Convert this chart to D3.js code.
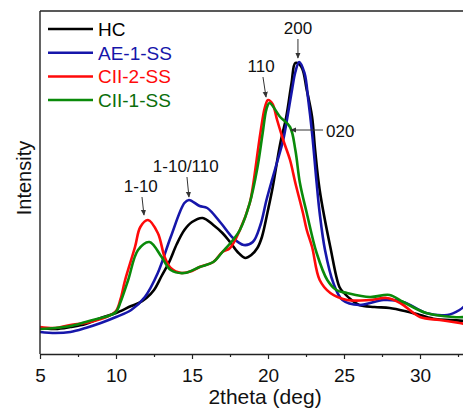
<!DOCTYPE html>
<html>
<head>
<meta charset="utf-8">
<script src="https://cdn.jsdelivr.net/npm/d3@7"></script>
<style>
  body { margin: 0; background: #fff; }
  svg { display: block; font-family: "Liberation Sans", Arial, sans-serif; }
</style>
</head>
<body>
<div id="chart"></div>
<script>
// XRD patterns, intensity in arbitrary units
const thetaHC = [5,6,7,8,9,10,11,11.5,12,12.5,13,13.5,14,14.5,15,15.7,16.4,17,17.5,18,18.5,18.9,19.3,19.6,20,20.3,20.8,21.2,21.55,21.8,22.2,22.55,22.9,23.1,23.4,24.1,24.7,25,25.5,26,27,28,29,30,31,32,33];
const intHC   = [26,25,27,30,36,41,48,51,56,64,78,92,110,124,132,136,129,121,112,102,96,99,106,117,144,166,210,237,271,291,287,264,237,204,164,107,67,61,54,49,47,46,43,39,35,34,33];

const thetaAE = [5,6,7,8,9,10,11,11.9,12.75,13.6,14.5,14.8,15.5,16,16.9,17.7,18.4,19,19.5,19.9,20.3,20.6,21,21.3,21.6,21.8,22.05,22.4,22.65,22.9,23.2,23.4,23.75,24.3,24.9,26,27.6,28.9,30.4,31.8,32.6,33];
const intAE   = [22,21,22,26,31,37,44,57,81,117,151,154,148,146,131,116,109,112,129,154,176,192,214,239,266,282,292,281,254,221,171,141,104,71,54,49,54,52,41,39,44,49];

const thetaC2 = [5,6,7,8,9,9.5,10,10.3,10.6,11.25,11.6,12.1,12.75,13.2,13.6,14.3,15,15.5,16.4,17,17.5,18.15,18.8,19,19.5,19.8,20,20.3,20.6,21,21.45,21.8,22.3,22.55,22.9,23.4,24.1,25.2,26.7,27.8,28.7,30,31.3,32.6,33];
const intC2   = [27,26,29,31,35,38,43,55,74,107,127,134,121,97,86,81,83,87,92,102,106,124,151,167,221,247,254,250,234,214,194,171,141,124,107,74,61,54,54,56,51,37,34,31,30];

const thetaC1 = [5,6,7,8,9,9.5,10,10.3,10.8,11.45,12.2,13,13.6,14.5,15.5,16.4,17,17.7,18.15,18.8,19.3,19.65,19.9,20.1,20.8,21.45,21.8,22.1,22.55,23.2,23.9,24.5,25.2,26.7,28,28.9,30.4,32.2,33];
const intC1   = [25,26,28,32,36,38,42,52,74,104,112,97,84,81,87,92,102,114,124,151,186,221,245,251,237,227,204,171,141,101,74,64,61,57,59,52,41,37,37];

const seriesNames  = ["HC", "AE-1-SS", "CII-2-SS", "CII-1-SS"];
const seriesColors = ["#000000", "#1616aa", "#ff0a0a", "#0a8a0a"];
const seriesTheta  = [thetaHC, thetaAE, thetaC2, thetaC1];
const seriesInt    = [intHC, intAE, intC2, intC1];

const xTicks = [5,10,15,20,25,30];

// peak labels: text, arrow tail (theta, I), arrow tip (theta, I)
const peakLabels = ["200", "110", "020", "1-10/110", "1-10"];
const peakTail   = [[21.97,315], [19.67,277], [23.62,224], [14.67,177], [11.71,157]];
const peakTip    = [[21.97,296], [19.87,257], [21.51,224], [14.80,157], [11.84,139]];

const W = 463, H = 412;
const m = { left: 40, top: 11, bottom: 58 };
const plotBottom = H - m.bottom;

const svg = d3.select("#chart").append("svg")
  .attr("width", W).attr("height", H);

const x = d3.scaleLinear().domain([5, 40]).range([m.left, m.left + 35 * 15.2]);
const y = d3.scaleLinear().domain([0, 343]).range([plotBottom, m.top]);

svg.append("defs").append("clipPath").attr("id", "clip")
  .append("rect")
  .attr("x", m.left).attr("y", m.top)
  .attr("width", W - m.left).attr("height", plotBottom - m.top);

const marker = svg.select("defs").append("marker")
  .attr("id", "arr")
  .attr("viewBox", "0 0 8 8")
  .attr("refX", 7).attr("refY", 4)
  .attr("markerWidth", 6).attr("markerHeight", 6)
  .attr("markerUnits", "userSpaceOnUse")
  .attr("orient", "auto");
marker.append("path").attr("d", "M0,0.5 L8,4 L0,7.5 Z").attr("fill", "#333");

// curves
const line = d3.line()
  .x(d => x(d[0]))
  .y(d => y(d[1]))
  .curve(d3.curveCatmullRom.alpha(0.5));

const plot = svg.append("g").attr("clip-path", "url(#clip)");
seriesNames.forEach((name, i) => {
  const pts = seriesTheta[i].map((t, j) => [t, seriesInt[i][j]]);
  plot.append("path")
    .datum(pts)
    .attr("fill", "none")
    .attr("stroke", seriesColors[i])
    .attr("stroke-width", 2.6)
    .attr("stroke-linejoin", "round")
    .attr("d", line);
});

// frame
svg.append("line")
  .attr("x1", m.left).attr("x2", m.left)
  .attr("y1", m.top).attr("y2", plotBottom)
  .attr("stroke", "#222").attr("stroke-width", 1.4);
svg.append("line")
  .attr("x1", m.left).attr("x2", W)
  .attr("y1", m.top).attr("y2", m.top)
  .attr("stroke", "#222").attr("stroke-width", 1.4);

// x axis
const minor = d3.range(7.5, 40, 5);
svg.append("g")
  .attr("transform", `translate(0,${plotBottom})`)
  .call(d3.axisBottom(x).tickValues(minor).tickSize(3).tickFormat(""))
  .call(g => g.select(".domain").remove())
  .selectAll("line").attr("stroke", "#222").attr("stroke-width", 1.2);

const xAxis = svg.append("g")
  .attr("transform", `translate(0,${plotBottom})`)
  .call(d3.axisBottom(x).tickValues(xTicks).tickSize(5).tickSizeOuter(0).tickPadding(10));
xAxis.select(".domain").attr("stroke", "#222").attr("stroke-width", 1.4);
xAxis.selectAll("line").attr("stroke", "#222").attr("stroke-width", 1.2);
xAxis.selectAll("text")
  .style("font-size", "19px")
  .attr("fill", "#111")
  .attr("font-family", "Liberation Sans, Arial, sans-serif");

svg.append("text")
  .attr("x", 265).attr("y", 404)
  .attr("text-anchor", "middle")
  .style("font-size", "21px")
  .attr("fill", "#111")
  .text("2theta (deg)");

svg.append("text")
  .attr("transform", "translate(31,178) rotate(-90)")
  .attr("text-anchor", "middle")
  .style("font-size", "20px")
  .attr("fill", "#111")
  .text("Intensity");

// legend
const legend = svg.append("g");
seriesNames.forEach((name, i) => {
  const ly = 29 + i * 23.7;
  legend.append("line")
    .attr("x1", 48).attr("x2", 93)
    .attr("y1", ly).attr("y2", ly)
    .attr("stroke", seriesColors[i]).attr("stroke-width", 2.5);
  legend.append("text")
    .attr("x", 98).attr("y", ly + 6.8)
    .style("font-size", "19px")
    .attr("fill", i === 3 ? "#0b6e0b" : seriesColors[i])
    .text(name);
});

// peak annotations
peakLabels.forEach((lab, i) => {
  const [t0, i0] = peakTail[i];
  const [t1, i1] = peakTip[i];
  svg.append("line")
    .attr("x1", x(t0)).attr("y1", y(i0))
    .attr("x2", x(t1)).attr("y2", y(i1))
    .attr("stroke", "#333").attr("stroke-width", 1)
    .attr("marker-end", "url(#arr)");
  const horiz = Math.abs(i1 - i0) < 1;
  svg.append("text")
    .attr("x", horiz ? x(t0) + 3 : x(t0) - (x(t1) - x(t0)) * 0.6)
    .attr("y", horiz ? y(i0) + 7 : y(i0) - 5)
    .attr("text-anchor", horiz ? "start" : "middle")
    .style("font-size", "17px")
    .attr("fill", "#111")
    .text(lab);
});
</script>
</body>
</html>
